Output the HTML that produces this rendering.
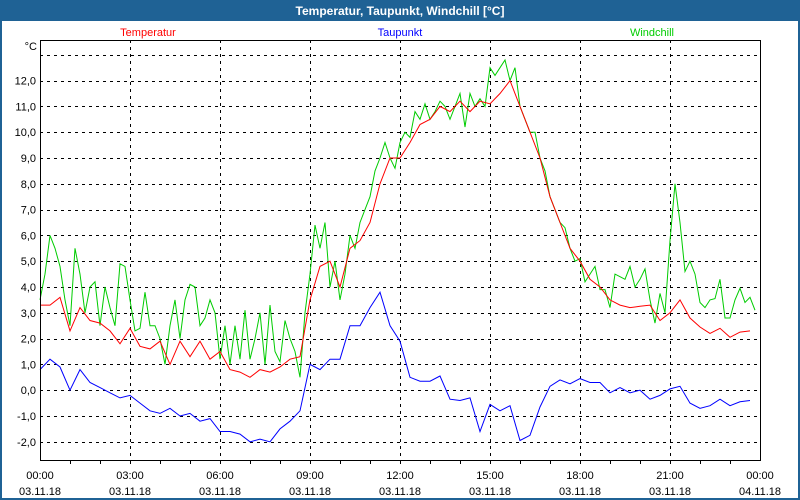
<!DOCTYPE html>
<html><head><meta charset="utf-8"><style>
body{margin:0;background:#fff}
svg{display:block;font-family:"Liberation Sans",sans-serif}
</style></head><body>
<svg id="c" width="800" height="500" xmlns="http://www.w3.org/2000/svg">
<rect x="0" y="0" width="800" height="500" fill="#1f6295"/>
<rect x="2" y="21" width="796" height="477" fill="#fff"/>
<text x="400" y="15" text-anchor="middle" fill="#fff" font-weight="bold" font-size="12">Temperatur, Taupunkt, Windchill [°C]</text>
<text x="148" y="36" text-anchor="middle" fill="#f00" font-size="11">Temperatur</text>
<text x="400" y="36" text-anchor="middle" fill="#00f" font-size="11">Taupunkt</text>
<text x="652" y="36" text-anchor="middle" fill="#0c0" font-size="11">Windchill</text>
<text x="37" y="50" text-anchor="end" font-size="11">°C</text>
<g id="grid" shape-rendering="crispEdges"></g><g id="series"></g>
<rect x="40.5" y="40.5" width="720" height="420" fill="none" stroke="#000" stroke-width="1" shape-rendering="crispEdges"/>
</svg>
<script>
const yTicks=[13,12,11,10,9,8,7,6,5,4,3,2,1,0,-1,-2];
const xTickHours=[0,3,6,9,12,15,18,21,24];
const xTimeLabels=["00:00","03:00","06:00","09:00","12:00","15:00","18:00","21:00","00:00"];
const xDateLabels=["03.11.18","03.11.18","03.11.18","03.11.18","03.11.18","03.11.18","03.11.18","03.11.18","04.11.18"];
const temperatur=[3.3,3.3,3.6,2.3,3.2,2.7,2.6,2.3,1.8,2.4,1.7,1.6,1.9,1.0,1.9,1.3,1.9,1.2,1.5,0.8,0.7,0.5,0.8,0.7,0.9,1.2,1.3,3.5,4.8,5.0,4.0,5.5,5.8,6.5,8.0,9.0,9.0,9.6,10.3,10.5,11.0,10.8,11.2,10.8,11.2,11.1,11.5,12.0,11.0,10.0,9.0,7.5,6.5,5.5,5.0,4.3,4.0,3.5,3.3,3.2,3.25,3.3,2.7,3.0,3.5,2.8,2.45,2.2,2.4,2.05,2.25,2.3];
const taupunkt=[0.8,1.2,0.9,0.0,0.8,0.3,0.1,-0.1,-0.3,-0.2,-0.5,-0.8,-0.9,-0.7,-1.0,-0.9,-1.2,-1.1,-1.6,-1.6,-1.7,-2.0,-1.9,-2.0,-1.5,-1.2,-0.8,1.0,0.8,1.2,1.2,2.5,2.5,3.2,3.8,2.5,1.9,0.5,0.35,0.35,0.55,-0.35,-0.4,-0.3,-1.6,-0.55,-0.8,-0.6,-1.95,-1.75,-0.65,0.15,0.4,0.25,0.45,0.3,0.3,-0.1,0.1,-0.1,0,-0.35,-0.2,0.05,0.15,-0.5,-0.7,-0.6,-0.35,-0.6,-0.45,-0.4];
const windchill=[3.5,4.5,6.0,5.5,4.8,3.5,2.5,5.5,4.5,3.0,4.0,4.2,2.5,4.0,3.2,2.5,4.9,4.8,3.5,2.3,2.4,3.8,2.5,2.5,2.0,1.0,2.5,3.5,2.0,3.5,4.1,4.0,2.5,2.8,3.5,3.0,1.2,2.5,1.0,2.5,1.2,3.1,1.2,2.0,3.0,1.0,3.3,1.5,1.1,2.7,2.0,1.5,0.5,3.0,4.5,6.4,5.5,6.5,4.0,5.0,3.5,4.5,6.0,5.5,6.5,7.0,7.5,8.5,9.0,9.6,9.0,8.6,9.6,10.0,9.8,10.8,10.5,11.1,10.5,10.8,11.2,11.0,10.5,11.0,11.5,10.2,11.5,11.0,11.3,11.0,12.5,12.2,12.5,12.8,12.0,12.5,11.0,10.5,10.0,10.0,9.0,8.5,7.5,7.0,6.5,6.3,5.5,5.0,5.1,4.2,4.5,4.8,3.9,3.9,3.2,4.5,4.4,4.3,4.8,4.0,4.3,4.7,3.5,2.6,3.75,3.0,5.8,8.0,6.5,4.6,5.0,4.5,3.4,3.2,3.5,3.55,4.3,2.8,2.8,3.5,3.95,3.4,3.6,3.1];
const NS="http://www.w3.org/2000/svg";
const xS=h=>40+h*30;
const yS=v=>390.2-25.8*v;
const grid=document.getElementById('grid'), ser=document.getElementById('series');
function mk(tag,attrs,parent){const e=document.createElementNS(NS,tag);for(const k in attrs)e.setAttribute(k,attrs[k]);parent.appendChild(e);return e;}
yTicks.forEach(v=>{
  const l=mk('line',{x1:40,x2:760,y1:Math.round(yS(v))+0.5,y2:Math.round(yS(v))+0.5,stroke:'#000','stroke-dasharray':'3,4'},grid);
  
  
  if(v<13){const t=mk('text',{x:36,y:yS(v)+4,'text-anchor':'end','font-size':'11'},grid);t.textContent=v.toFixed(1).replace('.',',');
  
  }
});
for(let h=1;h<24;h++){const m=mk('line',{x1:xS(h)+0.5,x2:xS(h)+0.5,y1:460,y2:464,stroke:'#000'},grid);
  
  }
xTickHours.forEach((h,i)=>{
  if(h>0&&h<24){const l=mk('line',{x1:xS(h)+0.5,x2:xS(h)+0.5,y1:40,y2:460,stroke:'#000','stroke-dasharray':'3,4'},grid);
  
  }
  const t=mk('text',{x:xS(h),y:479,'text-anchor':'middle','font-size':'11'},grid);t.textContent=xTimeLabels[i];
  
  
  const d=mk('text',{x:xS(h),y:495,'text-anchor':'middle','font-size':'11'},grid);d.textContent=xDateLabels[i];
  
  
});
function line(vals,stepH,color,name){
  const pts=vals.map((v,i)=>xS(i*stepH).toFixed(1)+','+yS(v).toFixed(1)).join(' ');
  const p=mk('polyline',{points:pts,fill:'none',stroke:color,'stroke-width':1},ser);
  
  
}
line(taupunkt,1/3,'#0000ff','taupunkt-line');
line(windchill,1/6,'#00cc00','windchill-line');
line(temperatur,1/3,'#ff0000','temperatur-line');
</script>
</body></html>
